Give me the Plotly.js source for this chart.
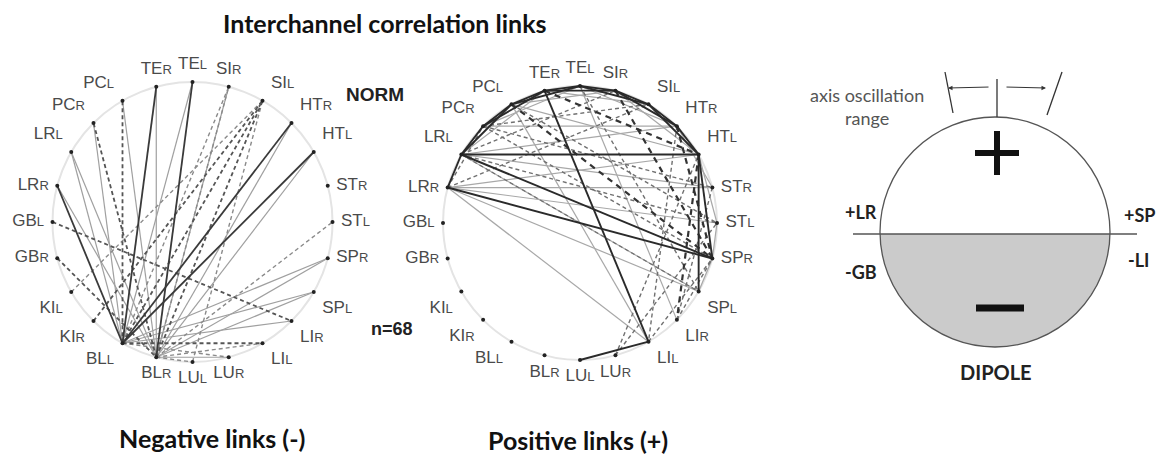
<!DOCTYPE html>
<html><head><meta charset="utf-8">
<script src="https://cdn.plot.ly/plotly-3.0.1.min.js"></script>
<style>html,body{margin:0;padding:0;background:#fff;}#chart{width:1158px;height:459px;}</style>
</head><body><div id="chart"></div>
<script>
// ---- DATA ----
// EEG channels around the circle, counter-clockwise from 3 o'clock
const channels = ['ST_L','ST_R','HT_L','HT_R','SI_L','SI_R','TE_L','TE_R','PC_L','PC_R','LR_L','LR_R',
                  'GB_L','GB_R','KI_L','KI_R','BL_L','BL_R','LU_L','LU_R','LI_L','LI_R','SP_L','SP_R'];

// Negative links (-), NORM n=68
const negStrongSolid = [['BL_L','LR_R'],['BL_L','TE_R'],['BL_R','TE_L'],['BL_L','HT_R'],['BL_L','HT_L']];
const negWeakSolid = [['BL_L','LR_L'],['BL_L','PC_R'],['BL_L','TE_L'],['BL_L','SP_R'],['BL_L','SP_L'],
  ['BL_R','LR_L'],['BL_R','LR_R'],['BL_R','PC_L'],['BL_R','TE_R'],['BL_R','SI_R'],['BL_R','HT_R'],
  ['BL_R','HT_L'],['BL_R','SP_R'],['BL_R','SP_L'],['BL_R','LU_R'],['BL_L','LI_R']];
const negStrongDashed = [['BL_L','PC_L'],['BL_R','PC_R'],['BL_L','SI_L'],['BL_R','SI_L'],['KI_R','SI_L'],
  ['GB_L','LI_R'],['GB_R','BL_R'],['BL_L','LI_L']];
const negWeakDashed = [['BL_L','SI_R'],['KI_L','SI_L'],['BL_R','ST_L'],['BL_R','LI_L'],['BL_R','LU_L'],
  ['LU_L','SI_L'],['BL_L','LU_R'],['BL_R','SI_R']];

// Positive links (+)
const posStrongSolid = [['LR_L','PC_R'],['PC_R','PC_L'],['PC_L','TE_R'],['TE_R','TE_L'],['TE_L','SI_R'],
  ['SI_R','SI_L'],['SI_L','HT_R'],['HT_R','HT_L'],['LR_L','PC_L'],['PC_R','TE_R'],['PC_L','TE_L'],
  ['TE_R','SI_R'],['TE_L','SI_L'],['SI_R','HT_R'],['SI_L','HT_L'],['LR_L','HT_L'],['LR_L','SP_R'],
  ['LR_R','SP_R'],['TE_R','LI_L'],['LI_L','LU_L'],['HT_L','SP_L'],['LR_L','LR_R'],['HT_L','SP_R']];
const posWeakSolid = [['LR_L','TE_R'],['PC_R','TE_L'],['PC_L','SI_R'],['TE_R','SI_L'],['TE_L','HT_R'],
  ['SI_R','HT_L'],['LR_R','ST_R'],['LR_R','ST_L'],['LR_R','SP_L'],['LR_R','HT_L'],['LR_R','LI_L'],
  ['LR_L','HT_R'],['LR_L','ST_R'],['PC_L','HT_L'],['PC_L','LI_L'],['TE_L','LI_R'],['ST_L','SP_R'],
  ['HT_L','ST_L'],['LR_L','SP_L'],['PC_R','HT_R'],['HT_R','ST_R'],['SP_L','SP_R']];
const posStrongDashed = [['SI_R','SP_R'],['TE_R','HT_L'],['PC_L','SP_R'],['HT_R','SP_R'],['HT_L','LI_R']];
const posWeakDashed = [['LR_L','ST_L'],['PC_R','ST_R'],['PC_R','SP_R'],['LR_R','PC_R'],['LR_R','SI_L'],
  ['HT_R','LI_L'],['LU_R','ST_L'],['LI_L','SP_R'],['LI_R','SP_R'],['ST_R','LI_R'],['LU_R','HT_L'],
  ['LR_L','SP_L'],['TE_L','SP_L'],['PC_L','ST_L'],['PC_R','SI_L'],['LR_L','SI_R']];

// Texts
const titleText = 'Interchannel correlation links';
const panelTitles = ['Negative links (-)', 'Positive links (+)'];
const groupLabel = 'NORM';
const sampleLabel = 'n=68';
const dipoleTitle = 'DIPOLE';
const dipoleSideLabels = ['+LR', '-GB', '+SP', '-LI'];
const oscillationLabel = 'axis oscillation<br>range';

// ---- GEOMETRY (layout only) ----
const W = 1158, H = 459;
const nets = [{cx:192.5, cy:222, r:140}, {cx:580, cy:223, r:137}];
const dip = {cx:995, cy:232, r:115, lineY:234};

function pos(net, name){
  const i = channels.indexOf(name);
  const a = i * 2 * Math.PI / channels.length;
  return [net.cx + net.r*Math.cos(a), net.cy - net.r*Math.sin(a)];
}
function labelText(name){
  const [c, s] = name.split('_');
  return c + "<span style='font-size:13px'>" + s + "</span>";
}
function labelPos(name){
  const i = channels.indexOf(name);
  const a = i * 2 * Math.PI / channels.length;
  const c = Math.cos(a), s = Math.sin(a);
  const v = s > 0.35 ? 'top' : (s < -0.35 ? 'bottom' : 'middle');
  const h = c > 0.35 ? 'right' : (c < -0.35 ? 'left' : 'center');
  return v + ' ' + h;
}
function edgeTrace(pairs, net, line){
  const xs = [], ys = [];
  pairs.forEach(([a,b]) => {
    const p = pos(net, a), q = pos(net, b);
    xs.push(p[0], q[0], null); ys.push(p[1], q[1], null);
  });
  return {type:'scatter', mode:'lines', x:xs, y:ys, line:line, hoverinfo:'skip', showlegend:false};
}
function nodeTraces(net){
  const xy = channels.map(n => pos(net, n));
  return [
    {type:'scatter', mode:'markers+text', x:xy.map(p=>p[0]), y:xy.map(p=>p[1]),
     marker:{size:12, color:'rgba(0,0,0,0)'}, text:channels.map(labelText),
     textposition:channels.map(labelPos), cliponaxis:false,
     textfont:{family:'Liberation Sans, Arial, sans-serif', size:17, color:'#4a4a4a'},
     hoverinfo:'skip', showlegend:false},
    {type:'scatter', mode:'markers', x:xy.map(p=>p[0]), y:xy.map(p=>p[1]),
     marker:{size:4, color:'#222'}, hoverinfo:'skip', showlegend:false}
  ];
}

const traces = [
  edgeTrace(negWeakSolid, nets[0], {color:'#a0a0a0', width:1.2}),
  edgeTrace(negWeakDashed, nets[0], {color:'#8a8a8a', width:1.4, dash:'4px,3px'}),
  edgeTrace(negStrongDashed, nets[0], {color:'#555', width:1.8, dash:'4px,3px'}),
  edgeTrace(negStrongSolid, nets[0], {color:'#3a3a3a', width:1.8}),
  ...nodeTraces(nets[0]),
  edgeTrace(posWeakSolid, nets[1], {color:'#a8a8a8', width:1.2}),
  edgeTrace(posWeakDashed, nets[1], {color:'#707070', width:1.4, dash:'4px,3px'}),
  edgeTrace(posStrongDashed, nets[1], {color:'#333', width:2.2, dash:'6px,5px'}),
  edgeTrace(posStrongSolid, nets[1], {color:'#2a2a2a', width:1.9}),
  ...nodeTraces(nets[1])
];

// dipole lower half path
function lowerHalfPath(){
  const dy = dip.lineY - dip.cy;
  const a0 = Math.asin(dy / dip.r);
  const pts = [];
  for (let k = 0; k <= 60; k++) {
    const a = a0 + (Math.PI - 2*a0) * k / 60;
    pts.push([dip.cx + dip.r*Math.cos(a), dip.cy + dip.r*Math.sin(a)]);
  }
  return 'M ' + pts.map(p => p[0].toFixed(2) + ',' + p[1].toFixed(2)).join(' L ') + ' Z';
}

const shapes = [
  ...nets.map(n => ({type:'circle', xref:'x', yref:'y', x0:n.cx-n.r, x1:n.cx+n.r, y0:n.cy-n.r, y1:n.cy+n.r,
    line:{color:'#e4e4e4', width:2}, layer:'below'})),
  {type:'path', xref:'x', yref:'y', path:lowerHalfPath(), fillcolor:'#cbcbcb', line:{width:0}, layer:'below'},
  {type:'circle', xref:'x', yref:'y', x0:dip.cx-dip.r, x1:dip.cx+dip.r, y0:dip.cy-dip.r, y1:dip.cy+dip.r,
    line:{color:'#555', width:1.3}},
  {type:'line', xref:'x', yref:'y', x0:853, x1:1137, y0:dip.lineY, y1:dip.lineY, line:{color:'#555', width:1.5}},
  {type:'line', xref:'x', yref:'y', x0:997, x1:997, y0:79, y1:dip.cy-dip.r, line:{color:'#333', width:1.3}},
  {type:'line', xref:'x', yref:'y', x0:945, x1:953, y0:72, y1:113, line:{color:'#333', width:1.3}},
  {type:'line', xref:'x', yref:'y', x0:1062, x1:1047, y0:72, y1:115, line:{color:'#333', width:1.3}},
  {type:'line', xref:'x', yref:'y', x0:975, x1:1019, y0:153, y1:153, line:{color:'#111', width:6}},
  {type:'line', xref:'x', yref:'y', x0:997, x1:997, y0:131, y1:175, line:{color:'#111', width:6}},
  {type:'line', xref:'x', yref:'y', x0:976, x1:1024, y0:308, y1:308, line:{color:'#111', width:7}}
];

const calibri = 'Lato, Open Sans, sans-serif';
function ann(text, x, y, font, extra){
  return Object.assign({text:text, x:x, y:y, xref:'x', yref:'y', showarrow:false,
    xanchor:'center', yanchor:'middle', font:font}, extra || {});
}
const annotations = [
  ann('<b>' + titleText + '</b>', 385, 23, {family:calibri, size:25, color:'#111'}),
  ann('<b>' + panelTitles[0] + '</b>', 212, 438, {family:calibri, size:25, color:'#111'}),
  ann('<b>' + panelTitles[1] + '</b>', 578, 440, {family:calibri, size:25, color:'#111'}),
  ann('<b>' + groupLabel + '</b>', 375, 94, {family:'Liberation Sans, Arial, sans-serif', size:19, color:'#222'}),
  ann('<b>' + sampleLabel + '</b>', 392, 329, {family:'Liberation Sans, Arial, sans-serif', size:18, color:'#222'}),
  ann('<b>' + dipoleTitle + '</b>', 996, 372, {family:calibri, size:20, color:'#222'}),
  ann('<b>' + dipoleSideLabels[0] + '</b>', 861, 212, {family:calibri, size:18, color:'#222'}),
  ann('<b>' + dipoleSideLabels[1] + '</b>', 861, 272, {family:calibri, size:18, color:'#222'}),
  ann('<b>' + dipoleSideLabels[2] + '</b>', 1139, 215, {family:calibri, size:18, color:'#222'}),
  ann('<b>' + dipoleSideLabels[3] + '</b>', 1138, 260, {family:calibri, size:18, color:'#222'}),
  ann(oscillationLabel, 867, 106, {family:calibri, size:18, color:'#555'}, {}),
  {x:948, y:88, ax:990, ay:87, xref:'x', yref:'y', axref:'x', ayref:'y', text:'', showarrow:true,
   arrowhead:2, arrowsize:0.9, arrowwidth:1, arrowcolor:'#333'},
  {x:1046, y:88, ax:1005, ay:87, xref:'x', yref:'y', axref:'x', ayref:'y', text:'', showarrow:true,
   arrowhead:2, arrowsize:0.9, arrowwidth:1, arrowcolor:'#333'}
];

const layout = {
  width:W, height:H, margin:{l:0, r:0, t:0, b:0},
  paper_bgcolor:'#fff', plot_bgcolor:'#fff',
  xaxis:{range:[0, W], visible:false, fixedrange:true},
  yaxis:{range:[H, 0], visible:false, fixedrange:true},
  shapes:shapes, annotations:annotations, showlegend:false
};
Plotly.newPlot('chart', traces, layout, {displayModeBar:false, staticPlot:true});
</script>
</body></html>
